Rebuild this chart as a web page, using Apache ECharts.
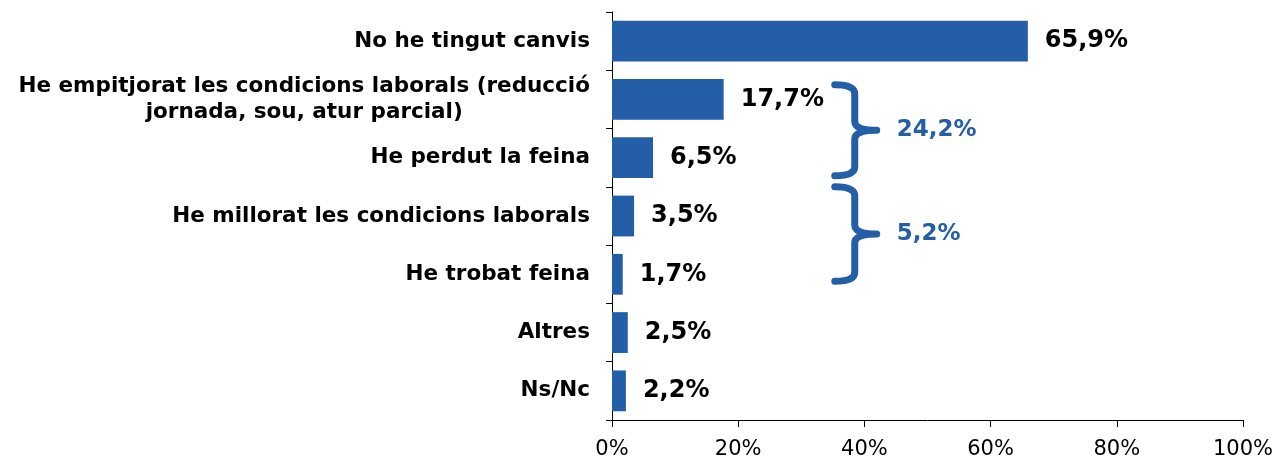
<!DOCTYPE html>
<html>
<head>
<meta charset="utf-8">
<script src="https://cdn.jsdelivr.net/npm/echarts@6/dist/echarts.min.js"></script>
<style>
  html, body { margin: 0; padding: 0; background: #fff; }
  #main { width: 1277px; height: 460px; }
</style>
</head>
<body>
<div id="main"></div>
<script>
// categories, top to bottom
const categories = [
  "No he tingut canvis",
  "He empitjorat les condicions laborals (reducció\njornada, sou, atur parcial)",
  "He perdut la feina",
  "He millorat les condicions laborals",
  "He trobat feina",
  "Altres",
  "Ns/Nc"
];
const values = [65.9, 17.7, 6.5, 3.5, 1.7, 2.5, 2.2];
const xTicks = [0, 20, 40, 60, 80, 100];

// grouped totals shown with braces
const braceFrom = [1, 3];
const braceTo = [2, 4];
const braceLabels = ["24,2%", "5,2%"];
const braceAt = 35.3; // x value where the brace arms start

const blue = "#245EA6";
const font = "DejaVu Sans";

function pct(v) {
  return v.toFixed(1).replace(".", ",") + "%";
}

// brace geometry (fraction of a band above start / below end)
const braceInsets = [[0.25, 0.31], [0.5, 0.12]];

function renderBrace(params, api) {
  let i = params.dataIndex,
    band = api.size([0, 1])[1],
    p1 = api.coord([api.value(0), api.value(1)]),
    p2 = api.coord([api.value(0), api.value(2)]),
    top = p1[1] - braceInsets[i][0] * band,
    bot = p2[1] + braceInsets[i][1] * band,
    mid = (top + bot) / 2,
    x0 = p1[0],
    x1 = x0 + 20,
    x2 = x1 + 22,
    r = 9;
  let d =
    "M" + x0 + "," + top +
    " Q" + x1 + "," + top + " " + x1 + "," + (top + r) +
    " L" + x1 + "," + (mid - r) +
    " Q" + x1 + "," + mid + " " + x2 + "," + mid +
    " Q" + x1 + "," + mid + " " + x1 + "," + (mid + r) +
    " L" + x1 + "," + (bot - r) +
    " Q" + x1 + "," + bot + " " + x0 + "," + bot;
  return {
    type: "group",
    children: [
      {
        type: "path",
        shape: { pathData: d },
        style: { fill: "none", stroke: blue, lineWidth: 7, lineCap: "round", lineJoin: "round" }
      },
      {
        type: "text",
        x: x2 + 20,
        y: mid,
        style: {
          text: braceLabels[i],
          fill: blue,
          font: "bold 23px " + font,
          verticalAlign: "middle",
          align: "left"
        }
      }
    ]
  };
}

let myChart = echarts.init(document.getElementById("main"));
let braceData = [];
for (let i = 0; i < braceLabels.length; i++) {
  braceData.push([braceAt, braceFrom[i], braceTo[i]]);
}

let option = {
  animation: false,
  grid: { left: 612, right: 34, top: 12, bottom: 39, containLabel: false },
  xAxis: {
    type: "value",
    min: xTicks[0],
    max: xTicks[xTicks.length - 1],
    interval: xTicks[1] - xTicks[0],
    axisLine: { show: true, lineStyle: { color: "#000", width: 1 } },
    axisTick: { show: true, length: 7, lineStyle: { color: "#000" } },
    splitLine: { show: false },
    axisLabel: {
      formatter: "{value}%",
      color: "#000",
      fontSize: 21,
      fontFamily: font,
      margin: 19
    }
  },
  yAxis: {
    type: "category",
    data: categories,
    inverse: true,
    axisLine: { show: true, lineStyle: { color: "#000", width: 1 } },
    axisTick: { show: true, length: 6, lineStyle: { color: "#000" } },
    axisLabel: {
      margin: 22,
      formatter: function (v) {
        return v
          .split("\n")
          .map(function (l) { return "{c|" + l + "}"; })
          .join("\n");
      },
      rich: {
        c: {
          align: "center",
          color: "#000",
          fontSize: 21.5,
          fontWeight: "bold",
          fontFamily: font,
          lineHeight: 26
        }
      }
    }
  },
  series: [
    {
      type: "bar",
      data: values,
      barCategoryGap: "30%",
      itemStyle: { color: blue },
      label: {
        show: true,
        position: "right",
        distance: 17,
        formatter: function (p) { return pct(p.value); },
        color: "#000",
        fontSize: 24,
        fontWeight: "bold",
        fontFamily: font
      }
    },
    {
      type: "custom",
      renderItem: renderBrace,
      data: braceData,
      encode: { x: 0, y: 1 },
      silent: true,
      z: 5
    }
  ]
};

myChart.setOption(option);
window.addEventListener("resize", function () {
  myChart.resize();
});
</script>
</body>
</html>
